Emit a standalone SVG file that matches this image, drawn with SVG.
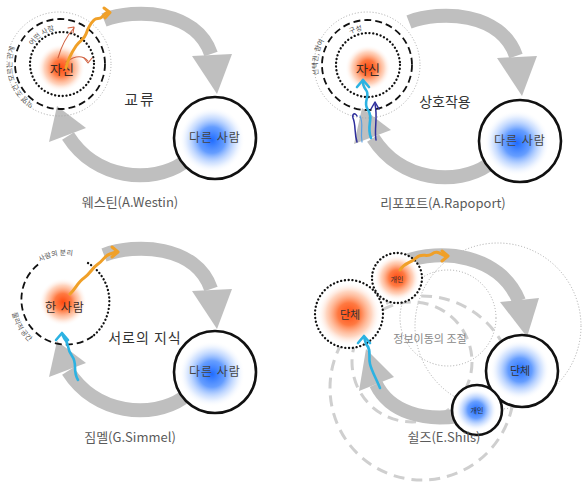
<svg xmlns="http://www.w3.org/2000/svg" width="582" height="490" viewBox="0 0 582 490">
<style>
.band{fill:none;stroke:#bfbfbf;stroke-width:14;stroke-linecap:butt}
.head{fill:#bfbfbf}
.dotb{fill:none;stroke:#111;stroke-width:2.3;stroke-dasharray:0.1 3.7;stroke-linecap:round}
.dashb{fill:none;stroke:#111;stroke-width:1.8;stroke-dasharray:7 4}
.dotg{fill:none;stroke:#a8a8a8;stroke-width:1;stroke-dasharray:1 2}
.dashg{fill:none;stroke:#cfcfcf;stroke-width:3;stroke-dasharray:11 7}
.ringw{fill:#fff;stroke:none}
.t{font-family:"Noto Sans CJK KR","Noto Sans",sans-serif}
.title{font-size:13px;fill:#5a5a5a;text-anchor:middle}
.lbl{font-size:12px;fill:#444;text-anchor:middle}
.curv{font-size:7px;fill:#555}
.orng{fill:none;stroke:#f0a028;stroke-width:3;stroke-linecap:round;stroke-linejoin:round}
.cyan{fill:none;stroke:#2cb2e2;stroke-width:2.6;stroke-linecap:round;stroke-linejoin:round}
.navy{fill:none;stroke:#2e2e9c;stroke-width:1.5;stroke-linecap:round;stroke-linejoin:round}
.red{fill:none;stroke:#d0603f;stroke-width:1.1;stroke-linecap:round;stroke-linejoin:round}
</style>
<defs>
<radialGradient id="go">
<stop offset="0" stop-color="#ff4a10" stop-opacity="1"/>
<stop offset="0.35" stop-color="#ff6a2c" stop-opacity="0.9"/>
<stop offset="0.7" stop-color="#ffa070" stop-opacity="0.45"/>
<stop offset="1" stop-color="#ffffff" stop-opacity="0"/>
</radialGradient>
<radialGradient id="gb">
<stop offset="0" stop-color="#1f6cff" stop-opacity="1"/>
<stop offset="0.4" stop-color="#4a8cff" stop-opacity="0.85"/>
<stop offset="0.75" stop-color="#a8c8ff" stop-opacity="0.4"/>
<stop offset="1" stop-color="#ffffff" stop-opacity="0"/>
</radialGradient>
<path id="p1o" d="M34.1,103.9 A47,47 0 0 1 54.9,17.2"/>
<path id="p1i" d="M32.7,45.7 A34.5,34.5 0 0 1 62,29.5"/>
<path id="p2o" d="M318.5,75 A49,49 0 0 1 350,19"/>
<path id="p2i" d="M350,34 A34.5,34.5 0 0 1 370,30.5"/>
<path id="p3t" d="M40,262 A46,46 0 0 1 90,263"/>
<path id="p3b" d="M12,313 A53,53 0 0 0 45,351"/>
</defs>

<!-- connectors -->
<g id="connectors">
<g id="arrows-westin">
<path class="band" d="M104,20 C135,8 196,10 211,54"/>
<polygon class="head" points="192,56 232,54 217,94"/>
<path class="band" d="M183,163 C152,184 96,180 68,136"/>
<polygon class="head" points="49,142 86,128 57,106"/>
</g>
<g id="arrows-rapoport" transform="translate(305,2)">
<path class="band" d="M104,20 C135,8 196,10 211,54"/>
<polygon class="head" points="192,56 232,54 217,94"/>
<path class="band" d="M183,163 C152,184 96,180 68,136"/>
<polygon class="head" points="49,142 86,128 57,106"/>
</g>
<g id="arrows-simmel" transform="translate(0,235)">
<path class="band" d="M104,20 C135,8 196,10 211,54"/>
<polygon class="head" points="192,56 232,54 217,94"/>
<path class="band" d="M183,163 C152,184 96,180 68,136"/>
<polygon class="head" points="49,142 86,128 57,106"/>
</g>
</g>

<!-- Panel 1: Westin -->
<g id="westin-self">
<circle cx="61" cy="68" r="24" fill="url(#go)"/>
<circle class="dotg" cx="59" cy="64" r="52"/>
<circle class="dashb" cx="60" cy="64" r="45"/>
<circle class="dotb" cx="62" cy="64" r="32"/>
<text class="t curv"><textPath href="#p1o">익명 조건, 모르는 관계</textPath></text>
<text class="t curv"><textPath href="#p1i">어떤 사람</textPath></text>
<text class="t" x="62" y="74" font-size="13" fill="#3a2a24" text-anchor="middle">자신</text>
<path class="red" d="M58,58 Q63,40 74,28"/>
<path class="red" d="M68,28 L74,27 L73,33"/>
<path class="red" d="M66,62 Q80,52 88,61"/>
<path class="red" d="M84,58 L88,63 L92,58"/>
<path class="orng" d="M66,68 C68,58 72,52 76,46 C80,40 84,40 86,34 C88,28 90,24 94,20 C97,17 99,20 102,17 C104,15 105,13 108,12"/>
<path class="orng" d="M104,8 L110,12.5 L105,18"/>
</g>
<g id="westin-other">
<circle class="ringw" cx="215" cy="138" r="41"/>
<circle cx="212" cy="140" r="33" fill="url(#gb)"/>
<circle cx="215" cy="138" r="41" fill="none" stroke="#111" stroke-width="2.6"/>
<text class="t lbl" x="215" y="142" letter-spacing="1">다른 사람</text>
</g>
<g id="westin-labels">
<text class="t" x="140" y="105" font-size="15" fill="#333" text-anchor="middle" letter-spacing="2">교류</text>
<text class="t title" x="130" y="207">웨스틴(A.Westin)</text>
</g>

<!-- Panel 2: Rapoport -->
<g id="rapoport-self">
<circle cx="368" cy="68" r="23" fill="url(#go)"/>
<circle class="dotg" cx="367" cy="65" r="53"/>
<circle class="dashb" cx="367" cy="65" r="45"/>
<circle class="dotb" cx="368" cy="65" r="32"/>
<text class="t curv"><textPath href="#p2o">선택권, 참여</textPath></text>
<text class="t curv"><textPath href="#p2i">구성</textPath></text>
<text class="t" x="368" y="74" font-size="13" fill="#3a2a24" text-anchor="middle">자신</text>
<path class="navy" d="M357,142 C354,132 356,125 353,118 C352,114 355,112 357,116"/>
<path fill="none" stroke="#5a9fe0" stroke-width="1.2" stroke-linecap="round" d="M362,142 C360,130 364,124 360,116"/>
<path class="cyan" d="M371,138 C366,126 374,118 368,110 C362,102 371,96 366,90 C363,86 363,84 363,80"/>
<path class="cyan" d="M357,87 L363,80 L369,87"/>
<path class="navy" d="M376,140 C374,128 378,118 375,104"/>
<path class="navy" d="M371,109 L375,102 L379,109"/>
</g>
<g id="rapoport-other">
<circle class="ringw" cx="520" cy="141" r="41"/>
<circle cx="517" cy="143" r="33" fill="url(#gb)"/>
<circle cx="520" cy="141" r="41" fill="none" stroke="#111" stroke-width="2.6"/>
<text class="t lbl" x="520" y="145" letter-spacing="1">다른 사람</text>
</g>
<g id="rapoport-labels">
<text class="t" x="445" y="107" font-size="14" fill="#333" text-anchor="middle">상호작용</text>
<text class="t title" x="443" y="208">리포포트(A.Rapoport)</text>
</g>

<!-- Panel 3: Simmel -->
<g id="simmel-self">
<circle cx="63" cy="302" r="24" fill="url(#go)"/>
<path class="dashb" d="M93,336 A45,45 0 1 1 40,263"/>
<path class="dotb" d="M88,263 A45,45 0 0 1 93,336"/>
<text class="t curv" font-size="8"><textPath href="#p3t">사람의 분리</textPath></text>
<text class="t curv" font-size="8"><textPath href="#p3b">물리적 공간</textPath></text>
<text class="t" x="65" y="312" font-size="12" fill="#3a2a24" text-anchor="middle" letter-spacing="1">한 사람</text>
<path class="orng" d="M70,294 C76,288 78,282 84,278 C90,274 92,268 98,264 C104,260 104,256 110,254 L116,252"/>
<path class="orng" d="M112,247 L118,252 L112,257"/>
<path class="cyan" d="M78,380 C72,370 78,364 72,356 C66,348 70,344 64,338 L62,334"/>
<path class="cyan" d="M56,340 L62,333 L68,340"/>
</g>
<g id="simmel-other">
<circle class="ringw" cx="215" cy="372" r="41"/>
<circle cx="212" cy="374" r="33" fill="url(#gb)"/>
<circle cx="215" cy="372" r="41" fill="none" stroke="#111" stroke-width="2.6"/>
<text class="t lbl" x="215" y="376" letter-spacing="1">다른 사람</text>
</g>
<g id="simmel-labels">
<text class="t" x="145" y="343" font-size="14" fill="#333" text-anchor="middle" letter-spacing="1">서로의 지식</text>
<text class="t title" x="130" y="442">짐멜(G.Simmel)</text>
</g>

<!-- Panel 4: Shils -->
<g id="shils-rings">
<circle class="dotg" cx="498" cy="326" r="83"/>
<circle class="dotg" cx="448" cy="318" r="48"/>
<circle class="dashg" cx="422" cy="388" r="92"/>
<circle class="dashg" cx="412" cy="362" r="60"/>
</g>
<g id="shils-connectors">
<path class="band" d="M404,262 C440,248 500,254 519,301"/>
<polygon class="head" points="500,302 539,298 527,337"/>
<path class="band" d="M458,416 C425,421 390,413 376,384"/>
<polygon class="head" points="359,391 394,377 366,349"/>
</g>
<g id="shils-group-self">
<circle class="ringw" cx="349" cy="314" r="34"/>
<circle cx="349" cy="314" r="32" fill="url(#go)"/>
<circle class="dotb" cx="349" cy="314" r="34"/>
<text class="t" x="350" y="319" font-size="11" fill="#333" text-anchor="middle">단체</text>
</g>
<g id="shils-person-self">
<circle class="ringw" cx="397" cy="278" r="25"/>
<circle cx="397" cy="278" r="23" fill="url(#go)"/>
<circle class="dotb" cx="397" cy="278" r="25"/>
<text class="t" x="397" y="282" font-size="7" fill="#333" text-anchor="middle">개인</text>
</g>
<g id="shils-group-other">
<circle class="ringw" cx="522" cy="371" r="36"/>
<circle cx="520" cy="370" r="30" fill="url(#gb)"/>
<circle cx="522" cy="371" r="36" fill="none" stroke="#111" stroke-width="2.6"/>
<text class="t" x="520" y="375" font-size="11" fill="#333" text-anchor="middle">단체</text>
</g>
<g id="shils-person-other">
<circle class="ringw" cx="477" cy="410" r="25"/>
<circle cx="476" cy="410" r="21" fill="url(#gb)"/>
<circle cx="477" cy="410" r="25" fill="none" stroke="#111" stroke-width="2.6"/>
<text class="t" x="477" y="413" font-size="7" fill="#333" text-anchor="middle">개인</text>
</g>
<g id="shils-flows">
<path class="orng" d="M400,270 C405,262 410,264 416,258 C422,252 426,258 432,254 C437,250 440,254 446,256"/>
<path class="orng" d="M442,251 L448,256 L442,261"/>
<path class="cyan" d="M380,388 C376,378 372,372 370,364 C368,356 372,350 366,344 L364,337"/>
<path class="cyan" d="M358,343 L364,336 L370,343"/>
</g>
<g id="shils-labels">
<text class="t" x="430" y="343" font-size="11" fill="#888" text-anchor="middle">정보이동의 조절</text>
<text class="t title" x="444" y="442">쉴즈(E.Shils)</text>
</g>
</svg>
